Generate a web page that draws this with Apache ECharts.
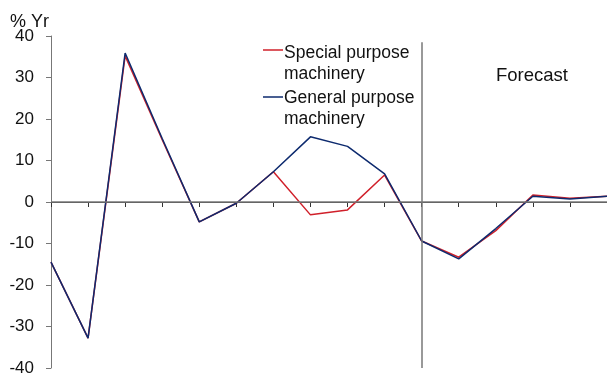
<!DOCTYPE html>
<html><head><meta charset="utf-8">
<script src="https://cdn.jsdelivr.net/npm/echarts@6/dist/echarts.min.js"></script>
<style>html,body{margin:0;padding:0;background:#fff}#c{width:607px;height:383px}</style>
</head><body><div id="c"></div>
<script>
const categories = ['1','2','3','4','5','6','7','8','9','10','11','12','13','14','15','16'];
const specialPurpose = [-14.5, -32.8, 35.2, 15, -4.8, -0.3, 7.3, -3.1, -1.9, 6.5, -9.4, -13.3, -6.9, 1.7, 0.9, 1.4];
const generalPurpose = [-14.5, -32.8, 35.9, 15.3, -4.8, -0.3, 7.3, 15.7, 13.4, 6.8, -9.4, -13.7, -6.4, 1.4, 0.7, 1.4];
const yTicks = [-40, -30, -20, -10, 0, 10, 20, 30, 40];
const forecastIndex = 10;
const font = 'Liberation Sans, Arial, sans-serif';

const chart = echarts.init(document.getElementById('c'));
chart.setOption({
  animation: false,
  grid: {left: 51, right: 0, top: 36, bottom: 15},
  xAxis: {
    type: 'category', data: categories, boundaryGap: false,
    axisLine: {lineStyle: {color: '#333', width: 1}},
    axisTick: {show: true, length: 5, inside: false, lineStyle: {color: '#333'}},
    axisLabel: {show: false},
    splitLine: {show: false}
  },
  yAxis: {
    type: 'value', min: yTicks[0], max: yTicks[yTicks.length - 1], interval: 10,
    axisLine: {show: true, lineStyle: {color: '#777', width: 1}},
    axisTick: {show: true, length: 5, lineStyle: {color: '#777'}},
    axisLabel: {color: '#111', fontSize: 17, fontFamily: font, margin: 17},
    splitLine: {show: false}
  },
  graphic: [
    {type: 'text', left: 10, top: 13, style: {text: '% Yr', font: '18px ' + font, fill: '#111', lineHeight: 18}},
    {type: 'text', left: 496, top: 66, style: {text: 'Forecast', font: '18.5px ' + font, fill: '#111', lineHeight: 19}},
    {type: 'line', shape: {x1: 263, y1: 50, x2: 283, y2: 50}, style: {stroke: '#d0202a', lineWidth: 1.5}},
    {type: 'text', left: 284, top: 43, style: {text: 'Special purpose\nmachinery', font: '17.5px ' + font, fill: '#111', lineHeight: 21}},
    {type: 'line', shape: {x1: 263, y1: 97, x2: 283, y2: 97}, style: {stroke: '#0d2a6e', lineWidth: 1.5}},
    {type: 'text', left: 284, top: 88, style: {text: 'General purpose\nmachinery', font: '17.5px ' + font, fill: '#111', lineHeight: 21}}
  ],
  series: [
    {
      name: 'Special purpose machinery', type: 'line', data: specialPurpose,
      symbol: 'none', lineStyle: {color: '#d0202a', width: 1.5}, z: 3,
      markLine: {
        silent: true, symbol: 'none', label: {show: false},
        lineStyle: {color: '#777', type: 'solid', width: 1.5},
        data: [
          {yAxis: 0},
          [{coord: [forecastIndex, 38.5]}, {coord: [forecastIndex, -40]}]
        ]
      }
    },
    {
      name: 'General purpose machinery', type: 'line', data: generalPurpose,
      symbol: 'none', lineStyle: {color: '#0d2a6e', width: 1.5}, z: 4
    }
  ]
});
</script></body></html>
